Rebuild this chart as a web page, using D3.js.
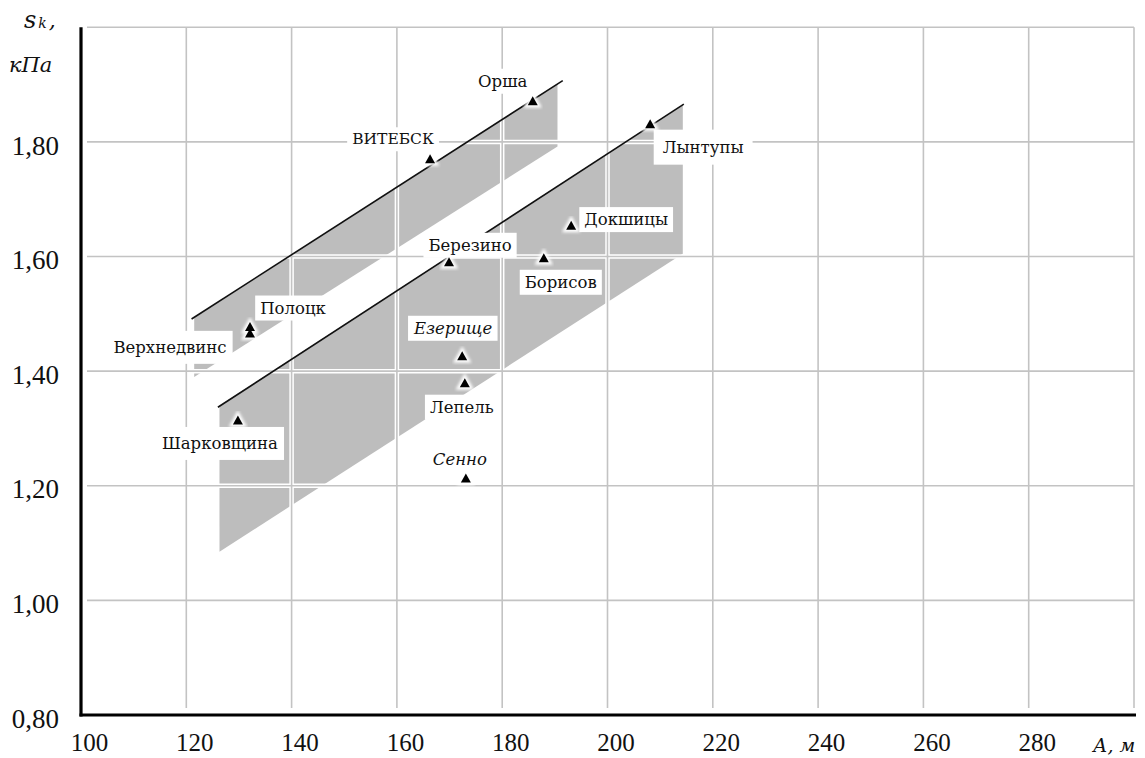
<!DOCTYPE html>
<html><head><meta charset="utf-8">
<script src="https://cdn.jsdelivr.net/npm/d3@7"></script>
<style>html,body{margin:0;padding:0;background:#fff;} svg{display:block}</style>
</head><body>
<svg id="chart" width="1145" height="758"></svg>
<script>
// Characteristic snow load s_k versus station altitude A
const stations = ["Орша","ВИТЕБСК","Лынтупы","Докшицы","Борисов","Березино","Полоцк","Верхнедвинс","Шарковщина","Езерище","Лепель","Сенно"];
const altitude = [185.8,166.3,208.1,193.1,187.9,169.9,132.1,132.1,129.8,172.4,172.9,173.1];
const snowLoad = [1.870,1.769,1.830,1.653,1.596,1.589,1.476,1.465,1.313,1.425,1.378,1.212];

// Two shaded zones (parallelograms): altitude span, load along upper and lower edges
const zoneAltitude = [[121.5,190.5],[126.3,214.3]];
const zoneUpper    = [[1.494,1.902],[1.340,1.865]];
const zoneLower    = [[1.390,1.792],[1.085,1.605]];
// Boundary line drawn along the upper edge of each zone
const zoneLineAltitude = [[121.0,191.5],[126.0,214.5]];
const zoneLineLoad     = [[1.491,1.907],[1.337,1.866]];

const xTicks = [100,120,140,160,180,200,220,240,260,280];
const yTicks = [0.8,1.0,1.2,1.4,1.6,1.8];
const xGrid = [120,140,160,180,200,220,240,260,280,300];
const yGrid = [1.0,1.2,1.4,1.6,1.8,2.0];

// label placement relative to each marker
const labelLayout = {
  "Орша":        {dx:-30, dy:-21},
  "ВИТЕБСК":     {dx:-37, dy:-21, size:15.5},
  "Лынтупы":     {dx:53,  dy:22, padX:9, padY:8},
  "Докшицы":     {dx:55,  dy:-7},
  "Борисов":     {dx:17,  dy:23},
  "Березино":    {dx:21,  dy:-18},
  "Полоцк":      {dx:43,  dy:-20},
  "Верхнедвинс": {dx:-80, dy:13, padX:6, padY:7},
  "Шарковщина":  {dx:-18, dy:22, padX:6, padY:7},
  "Езерище":     {dx:-9,  dy:-29, italic:true},
  "Лепель":      {dx:-3,  dy:23},
  "Сенно":       {dx:-6,  dy:-20, italic:true}
};

const svg = d3.select("#chart");
const x = d3.scaleLinear().domain([100,300]).range([81,1134]);
const y = d3.scaleLinear().domain([0.8,2.0]).range([715,27.3]);

const defs = svg.append("defs");
defs.append("filter").attr("id","soft").attr("x","-5%").attr("y","-5%").attr("width","110%").attr("height","110%")
  .append("feGaussianBlur").attr("stdDeviation",0.7);
defs.append("filter").attr("id","glow").attr("x","-50%").attr("y","-50%").attr("width","200%").attr("height","200%")
  .append("feGaussianBlur").attr("stdDeviation",1.6);

// zones
const zones = zoneAltitude.map((a,i)=>[
  [a[0], zoneUpper[i][0]], [a[1], zoneUpper[i][1]],
  [a[1], zoneLower[i][1]], [a[0], zoneLower[i][0]]
]);
svg.append("g").selectAll("path").data(zones).join("path")
  .attr("d", d => "M" + d.map(p => [x(p[0]), y(p[1])].join(",")).join("L") + "Z")
  .attr("fill","#bdbdbd").attr("filter","url(#soft)");

// gridlines: white halo shows over the zones
const grid = svg.append("g");
[["#ffffff",4.5],["#c3c3c3",1.6]].forEach(([c,w])=>{
  grid.append("g").selectAll("line").data(xGrid).join("line")
    .attr("x1",d=>x(d)).attr("x2",d=>x(d)).attr("y1",y(2.0)).attr("y2",708)
    .attr("stroke",c).attr("stroke-width",w);
  grid.append("g").selectAll("line").data(yGrid).join("line")
    .attr("x1",87).attr("x2",x(300)).attr("y1",d=>y(d)).attr("y2",d=>y(d))
    .attr("stroke",c).attr("stroke-width",w);
});

// zone boundary lines
svg.append("g").selectAll("line").data(zoneLineAltitude).join("line")
  .attr("x1",(d)=>x(d[0])).attr("x2",(d)=>x(d[1]))
  .attr("y1",(d,i)=>y(zoneLineLoad[i][0])).attr("y2",(d,i)=>y(zoneLineLoad[i][1]))
  .attr("stroke","#111").attr("stroke-width",1.6);

// axes
const xAxis = d3.axisBottom(x).tickValues(xTicks).tickSize(0).tickFormat(d3.format("d"));
const gx = svg.append("g").attr("transform","translate(0,715)").call(xAxis);
gx.select(".domain").attr("d", `M${x(100)-1.5},0H${x(300)+2}`).attr("stroke","#000").attr("stroke-width",3.2);
gx.selectAll("text").attr("dy",null).attr("y",36).attr("dx",8)
  .attr("font-family","Liberation Serif").attr("font-size",25).attr("fill","#111");

const fmtY = d => d3.format(".2f")(d).replace(".", ",");
const yAxis = d3.axisLeft(y).tickValues(yTicks).tickSize(0).tickFormat(fmtY);
const gy = svg.append("g").attr("transform","translate(81,0)").call(yAxis);
gy.select(".domain").attr("d", `M0,${y(2.0)}V${716.5}`).attr("stroke","#000").attr("stroke-width",3.2);
gy.selectAll("text").attr("x",-22).attr("dy","0.45em")
  .attr("font-family","Liberation Serif").attr("font-size",27).attr("fill","#111");

// axis titles
const t1 = svg.append("text").attr("x",24).attr("y",28)
  .attr("font-family","DejaVu Serif").attr("font-style","italic").attr("fill","#111");
t1.append("tspan").attr("font-size",24).text("s");
t1.append("tspan").attr("font-size",14).attr("dx",2).text("k");
t1.append("tspan").attr("font-size",22).attr("dx",2).text(",");
svg.append("text").attr("x",9).attr("y",72)
  .attr("font-family","DejaVu Serif").attr("font-style","italic").attr("font-size",21).attr("fill","#111")
  .text("кПа");
svg.append("text").attr("x",1093).attr("y",752)
  .attr("font-family","DejaVu Serif").attr("font-style","italic").attr("font-size",19).attr("fill","#111")
  .text("А, м");

// station markers and labels
const pts = stations.map((s,i)=>({name:s, a:altitude[i], v:snowLoad[i]}));
const tri = "M0,-5.5L5,3.5L-5,3.5Z";

const labels = svg.append("g");
pts.forEach(p=>{
  const L = labelLayout[p.name];
  const cx = x(p.a) + L.dx, cy = y(p.v) + L.dy;
  const g = labels.append("g");
  const r = g.append("rect").attr("fill","#fff");
  const t = g.append("text").attr("x",cx).attr("y",cy).attr("text-anchor","middle").attr("dy","0.36em")
    .attr("font-family","DejaVu Serif").attr("font-size",L.size ?? 16.5).attr("fill","#111")
    .attr("font-style", L.italic ? "italic" : null)
    .text(p.name);
  const b = t.node().getBBox();
  const px = L.padX ?? 5, py = L.padY ?? 3;
  r.attr("x",b.x-px).attr("y",b.y-py).attr("width",b.width+2*px).attr("height",b.height+2*py);
});

const marks = svg.append("g");
marks.selectAll("path.halo").data(pts).join("path").attr("class","halo")
  .attr("d",tri).attr("transform",d=>`translate(${x(d.a)},${y(d.v)})`)
  .attr("fill","#fff").attr("stroke","#fff").attr("stroke-width",5).attr("filter","url(#glow)");
marks.selectAll("path.mark").data(pts).join("path").attr("class","mark")
  .attr("d",tri).attr("transform",d=>`translate(${x(d.a)},${y(d.v)})`)
  .attr("fill","#000");
</script>
</body></html>
